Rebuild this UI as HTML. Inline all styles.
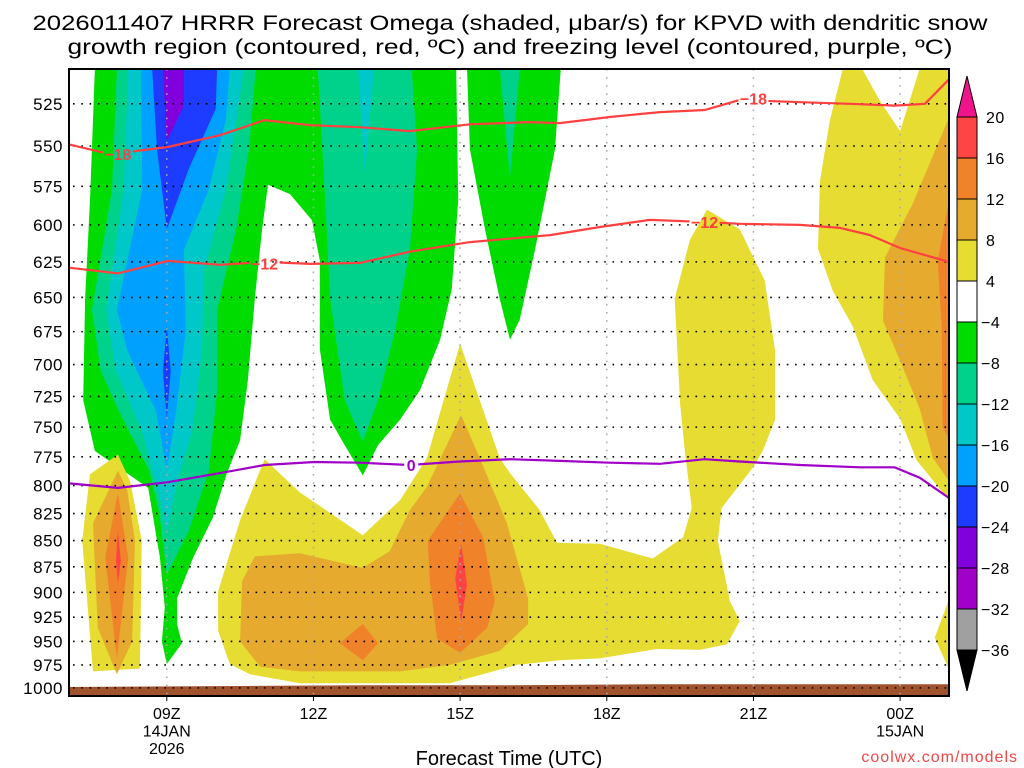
<!DOCTYPE html>
<html><head><meta charset="utf-8"><style>
html,body{margin:0;padding:0;background:#fff;}
svg{display:block;font-family:"Liberation Sans",sans-serif;}
</style></head><body>
<svg id="chart" width="1024" height="768" viewBox="0 0 1024 768" xmlns="http://www.w3.org/2000/svg">
<text x="510" y="30" font-size="21" text-anchor="middle" fill="#000" textLength="955" lengthAdjust="spacingAndGlyphs">2026011407 HRRR Forecast Omega (shaded, μbar/s) for KPVD with dendritic snow</text>
<text x="510" y="54" font-size="21" text-anchor="middle" fill="#000" textLength="885" lengthAdjust="spacingAndGlyphs">growth region (contoured, red, ºC) and freezing level (contoured, purple, ºC)</text>
<g id="plot"></g>
<g id="axes"></g>
<g id="cbar"></g>
<text x="509" y="765" font-size="20" text-anchor="middle" fill="#000">Forecast Time (UTC)</text>
<text x="1018" y="762" font-size="16" text-anchor="end" fill="#f04848" letter-spacing="1">coolwx.com/models</text>
</svg>
<script>
// axis: hours after 07Z (0..18), pressure (mb, log scale)
const pressureTicks=[525,550,575,600,625,650,675,700,725,750,775,800,825,850,875,900,925,950,975,1000];
const timeTickHours=[2,5,8,11,14,17];
const timeTickLabels=[["09Z","14JAN","2026"],["12Z"],["15Z"],["18Z"],["21Z"],["00Z","15JAN"]];
const cbarLevels=["20","16","12","8","4","−4","−8","−12","−16","−20","−24","−28","−32","−36"];
const cbarColors=["#ff4444","#f0822a","#e6aa2e","#e6dc32","#ffffff","#00dc00","#00d28c","#00c8c8","#00a0ff","#1e3cff","#8200dc","#a000c8","#a0a0a0"];

// filled contour polygons: hours and pressures
const greenA_h=[0.53,0.43,0.33,0.29,0.53,1.62,1.86,1.96,1.9,2.0,2.31,2.21,2.21,2.54,2.94,3.23,3.5,3.66,3.8,3.95,4.07,4.52,4.97,5.13,5.13,5.34,5.64,6.01,6.32,6.77,7.18,7.59,7.83,7.96,7.92];
const greenA_p=[505,584,651,728,770,802,866,915,950,974,952,932,906,866,829,789,761,712,651,603,574,580,597,624,688,744,765,791,765,744,720,681,644,584,505];
const greenB_h=[8.14,8.2,8.51,8.81,9.02,9.22,9.53,9.94,10.06];
const greenB_p=[505,552,603,651,681,666,617,552,505];
const tealB_h=[8.81,9.02,9.22];
const tealB_p=[505,570,505];
const tealM_h=[5.09,5.24,5.34,5.64,6.01,6.32,6.67,6.97,7.12,7.01];
const tealM_p=[505,584,651,728,762,728,674,617,552,505];
const cyanM_h=[5.91,6.05,6.24];
const cyanM_p=[505,567,505];
const tealL_h=[0.98,0.88,0.47,0.65,1.02,1.64,1.84,2.0,2.45,2.86,3.03,3.03,3.42,3.68,3.82];
const tealL_p=[505,577,659,705,737,787,823,882,841,787,721,659,603,552,505];
const cyanL_h=[1.21,1.12,0.76,0.96,1.49,1.88,2.0,2.19,2.52,2.72,2.76,3.21,3.58];
const cyanL_p=[505,577,659,705,753,815,843,800,753,689,631,577,505];
const lblueL_h=[1.47,1.5,0.98,1.19,1.78,2.0,2.19,2.39,2.35,2.86,3.21,3.29];
const lblueL_p=[505,577,659,689,737,787,737,674,617,577,534,505];
const blueL_h=[1.7,1.8,2.0,2.45,3.0,3.03];
const blueL_p=[505,552,603,564,528,505];
const blueS_h=[2.0,1.92,2.0,2.08];
const blueS_p=[671,705,743,705];
const purpL_h=[1.92,2.0,2.35,2.35];
const purpL_p=[505,547,526,505];

const yelLS_h=[1.0,1.25,1.49,1.45,0.49,0.27,0.43];
const yelLS_p=[773,796,850,979,982,850,790];
const goldLS_h=[1.0,1.19,1.35,1.29,0.98,0.59,0.49];
const goldLS_p=[787,804,850,950,985,936,834];
const orngLS_h=[1.0,1.21,0.98,0.74];
const orngLS_p=[807,866,968,866];
const redLS_h=[1.0,1.06,1.0,0.96];
const redLS_p=[841,869,891,869];

const yelM_h=[3.05,3.5,4.0,4.72,6.01,6.77,7.32,8.0,8.81,9.02,9.63,9.98,10.86,11.94,12.56,12.74,12.6,12.5,12.39,12.7,13.05,13.72,14.23,14.44,14.44,14.19,13.99,13.35,13.27,13.52,13.72,13.46,12.9,12.02,10.86,10.04,9.16,7.79,4.72,3.7,3.29,3.05];
const yelM_p=[899,831,777,806,845,813,776,684,776,789,822,852,853,867,847,820,771,731,651,610,590,603,638,689,744,770,784,820,850,909,929,953,959,958,968,970,975,995,995,985,974,939];
const goldM_h=[3.5,3.54,3.8,4.72,6.01,6.56,6.97,7.32,8.02,8.4,8.96,9.39,9.39,8.81,7.79,6.77,4.72,3.91];
const goldM_p=[950,889,865,862,876,860,822,801,740,776,834,906,932,960,975,982,982,977];
const orngM_h=[7.34,8.0,8.47,8.71,8.55,8.0,7.53,7.38];
const orngM_p=[850,807,847,909,936,962,947,889];
const orngD_h=[5.54,6.01,6.32,6.01];
const orngD_p=[952,932,952,970];
const redM_h=[8.02,8.14,8.02,7.9];
const redM_p=[853,892,930,886];

const yelR_h=[15.83,16.22,16.58,17.0,17.4,18,18,17.34,17.0,16.44,16.03,15.62,15.32,15.36,15.56];
const yelR_p=[505,505,523,541,505,505,813,778,743,712,671,645,616,572,535];
const goldR_h=[18,17.26,16.69,16.65,17.0,17.4,17.67,18];
const goldR_p=[533,586,622,667,697,735,776,796];
const orngR_h=[18,17.77,17.85,17.87,18];
const orngR_p=[584,624,672,750,760];
const yelBR_h=[18,17.71,18];
const yelBR_p=[907,946,980];

const groundH=[0,3,6,9,12,15,18];
const groundP=[999,998,997,997,996,996,996];

// line contours
const t18_h=[0,0.84,2.02,3.09,4.0,4.93,5.95,6.97,8.2,9.43,10.04,11.06,12.09,13.0,13.72,14.74,15.97,16.89,17.51,18];
const t18_p=[549,555,550.6,543.5,534.5,537.5,538.7,541,537,535.7,536.3,532.7,529.8,528.6,522.7,523.8,525,526,525,511];
const t12_h=[0,1,2.02,3.09,4.0,4.93,5.95,6.97,8.2,9.84,10.86,11.88,12.9,13.72,14.95,15.77,16.38,17.0,18];
const t12_p=[629,633,624.3,627,625,626.4,625.7,618,611.5,606.8,601.4,596.7,598,599.3,600,602,606.8,615.5,625];
const t0_h=[0,1,2.02,3.09,4.0,5.02,5.95,6.97,7.99,9.02,10.04,11.06,12.09,13.0,13.72,14.95,16.18,16.89,17.4,18];
const t0_p=[798,802,797,789,782,779.4,780,782,779,777,778.5,780,781,777,779,782,784,784,793,811];
const labelsT=[["−18",1.0,555,"#ff4040"],["−18",14.0,522,"#ff4040"],["−12",4.0,626,"#ff4040"],["−12",13.0,598,"#ff4040"],["0",7.0,782,"#a000c8"]];

const X0=69,X1=949,Y0=69,Y1=696;
const xs=h=>X0+h*(X1-X0)/18;
const LT=Math.log(505.2),LB=Math.log(1009);
const ys=p=>Y0+(Math.log(p)-LT)/(LB-LT)*(Y1-Y0);
const NS="http://www.w3.org/2000/svg";
const plot=document.getElementById('plot'),axes=document.getElementById('axes'),cbar=document.getElementById('cbar');
function mk(tag,par,attrs){const e=document.createElementNS(NS,tag);for(const k in attrs)e.setAttribute(k,attrs[k]);par.appendChild(e);return e;}
function poly(hs,ps,fill,name){const pts=hs.map((h,i)=>xs(h).toFixed(1)+','+ys(ps[i]).toFixed(1)).join(' ');
 const e=mk('polygon',plot,{points:pts,fill:fill});
 
 return e;}
function line(hs,ps,col,name){const d=hs.map((h,i)=>(i?'L':'M')+xs(h).toFixed(1)+','+ys(ps[i]).toFixed(1)).join(' ');
 const e=mk('path',plot,{d:d,fill:'none',stroke:col,'stroke-width':2.2,mask:'url(#lblmask)'});
 
 }
const defs=mk('defs',document.getElementById('chart'),{});
const cp=mk('clipPath',defs,{id:'clip'});mk('rect',cp,{x:X0,y:Y0,width:X1-X0,height:Y1-Y0});
const mask=mk('mask',defs,{id:'lblmask',maskUnits:'userSpaceOnUse',x:0,y:0,width:1024,height:768});
mk('rect',mask,{x:0,y:0,width:1024,height:768,fill:'#fff'});
labelsT.forEach(l=>{const w=l[0].length>1?30:14;mk('rect',mask,{x:xs(l[1])-w/2,y:ys(l[2])-9,width:w,height:18,fill:'#000'});});
plot.setAttribute('clip-path','url(#clip)');

poly(greenA_h,greenA_p,"#00dc00","omega-green-main");
poly(greenB_h,greenB_p,"#00dc00","omega-green-right");
poly(tealB_h,tealB_p,"#00d28c","omega-teal-right");
poly(tealM_h,tealM_p,"#00d28c","omega-teal-middle");
poly(cyanM_h,cyanM_p,"#00c8c8","omega-cyan-middle");
poly(tealL_h,tealL_p,"#00d28c","omega-teal-left");
poly(cyanL_h,cyanL_p,"#00c8c8","omega-cyan-left");
poly(lblueL_h,lblueL_p,"#00a0ff","omega-lightblue-left");
poly(blueL_h,blueL_p,"#1e3cff","omega-blue-left");
poly(blueS_h,blueS_p,"#1e3cff","omega-blue-streak");
poly(purpL_h,purpL_p,"#8200dc","omega-purple-left");
poly(yelLS_h,yelLS_p,"#e6dc32","omega-yellow-leftplume");
poly(goldLS_h,goldLS_p,"#e6aa2e","omega-gold-leftplume");
poly(orngLS_h,orngLS_p,"#f0822a","omega-orange-leftplume");
poly(redLS_h,redLS_p,"#ff4444","omega-red-leftplume");
poly(yelM_h,yelM_p,"#e6dc32","omega-yellow-middle");
poly(goldM_h,goldM_p,"#e6aa2e","omega-gold-middle");
poly(orngM_h,orngM_p,"#f0822a","omega-orange-middle");
poly(orngD_h,orngD_p,"#f0822a","omega-orange-diamond");
poly(redM_h,redM_p,"#ff4444","omega-red-middle");
poly(yelR_h,yelR_p,"#e6dc32","omega-yellow-right");
poly(goldR_h,goldR_p,"#e6aa2e","omega-gold-right");
poly(orngR_h,orngR_p,"#f0822a","omega-orange-right");
poly(yelBR_h,yelBR_p,"#e6dc32","omega-yellow-bottomright");
poly(groundH.concat([18,0]),groundP.concat([1012,1012]),"#a0522d","ground-surface");

// grid
pressureTicks.forEach(p=>{const e=mk('line',plot,{x1:X0+4,x2:X1,y1:ys(p),y2:ys(p),stroke:'#000','stroke-width':1.6,'stroke-dasharray':'1.6,6.7'});
 
 });
timeTickHours.forEach(h=>{const e=mk('line',plot,{x1:xs(h),x2:xs(h),y1:Y0,y2:Y1,stroke:'#aaa','stroke-width':1.5,'stroke-dasharray':'1.6,6.5'});
 
 });

line(t18_h,t18_p,"#ff4040","temp-minus18-contour");
line(t12_h,t12_p,"#ff4040","temp-minus12-contour");
line(t0_h,t0_p,"#a000c8","freezing-level-contour");
labelsT.forEach(l=>{const x=xs(l[1]),y=ys(l[2]);
 const t=mk('text',plot,{x:x,y:y+6,'font-size':16,'font-weight':'bold','text-anchor':'middle',fill:l[3]});t.textContent=l[0];
 
 });

// frame & ticks
const fr=mk('rect',axes,{x:X0,y:Y0,width:X1-X0,height:Y1-Y0,fill:'none',stroke:'#000','stroke-width':2});


pressureTicks.forEach(p=>{const t=mk('text',axes,{x:63,y:ys(p)+6,'font-size':17,'text-anchor':'end',fill:'#000','letter-spacing':'0.5'});t.textContent=p;
 
 });
timeTickHours.forEach((h,i)=>{mk('line',axes,{x1:xs(h),x2:xs(h),y1:Y1,y2:Y1+5,stroke:'#000','stroke-width':1});
 timeTickLabels[i].forEach((s,j)=>{const t=mk('text',axes,{x:xs(h),y:719+j*17.5,'font-size':16,'text-anchor':'middle',fill:'#000'});t.textContent=s;
 
 });});

// colorbar
const CX=957,CW=20,CT=117,CH=41;
const tri1=mk('polygon',cbar,{points:`${CX},${CT} ${CX+CW},${CT} ${CX+CW/2},${CT-41}`,fill:'#f0148c',stroke:'#000','stroke-width':1});


cbarColors.forEach((c,i)=>{const r=mk('rect',cbar,{x:CX,y:CT+i*CH,width:CW,height:CH,fill:c,stroke:'#000','stroke-width':1});
 
 });
const bot=CT+cbarColors.length*CH;
const tri2=mk('polygon',cbar,{points:`${CX},${bot} ${CX+CW},${bot} ${CX+CW/2},${bot+41}`,fill:'#000',stroke:'#000','stroke-width':1});


cbarLevels.forEach((s,i)=>{const t=mk('text',cbar,{x:s.startsWith('−')?981:986,y:CT+i*CH+6,'font-size':16,fill:'#000','letter-spacing':'0.5'});t.textContent=s;
 
 });
</script>
</body></html>
